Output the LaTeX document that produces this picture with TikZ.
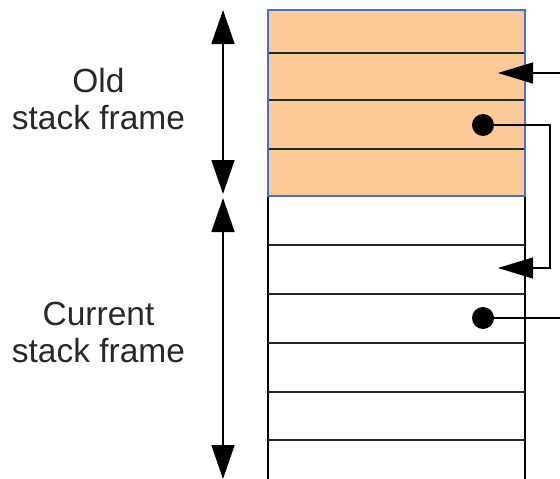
\documentclass[tikz,border=0pt]{standalone}
\usepackage{fontspec}
\setmainfont{Liberation Sans}
\usetikzlibrary{arrows.meta}
\definecolor{oldfill}{RGB}{253,202,152}
\definecolor{oldedge}{RGB}{68,114,196}
\definecolor{txt}{RGB}{40,40,40}
\tikzset{
  rowline/.style={line width=1.7pt,black!85},
  sideline/.style={line width=1.7pt,black},
  dotnode/.style={circle,fill=black,inner sep=0pt,minimum size=22pt},
  conn/.style={line width=1.4pt,black},
  ptr/.style={conn,-{Triangle[length=35pt,width=21pt]}},
  span/.style={line width=1.7pt,{Triangle[length=34pt,width=23pt]}-{Triangle[length=34pt,width=23pt]}},
  lbl/.style={font=\fontsize{33.5pt}{37pt}\selectfont,text=txt,align=center,anchor=base,inner sep=0pt}
}
\begin{document}
\begin{tikzpicture}[x=1pt,y=-1pt]
\useasboundingbox (0,0) rectangle (560,479);
% old frame
\fill[oldfill] (268,10) rectangle (525,196);
\foreach \yy in {53,100,149} \draw[rowline] (268,\yy) -- (525,\yy);
% current frame
\draw[sideline] (268,196) -- (268,479);
\draw[sideline] (525,196) -- (525,479);
\foreach \yy in {245,294,343,392,440} \draw[rowline] (268,\yy) -- (525,\yy);
\draw[line width=1.5pt,oldedge] (268,10) rectangle (525,196);
% labels
\node[lbl] (old) at (98.5,129) {Old\\stack frame};
\node[lbl] (cur) at (98.5,362) {Current\\stack frame};
% spans
\coordinate (s1) at (223,10);
\coordinate (s2) at (223,194);
\coordinate (s3) at (223,198);
\coordinate (s4) at (223,479);
\draw[span] (s1) -- (s2);
\draw[span] (s3) -- (s4);
% pointers
\node[dotnode] (d1) at (483,125) {};
\node[dotnode] (d2) at (483,318) {};
\coordinate (t1) at (498,73);
\coordinate (e1) at (560,73);
\coordinate (t2) at (498,268);
\coordinate (e2) at (560,318);
\draw[ptr] (e1) -- (t1);
\draw[ptr] (d1.center) -- (550,125) |- (t2);
\draw[conn] (d2.center) -- (e2);
\end{tikzpicture}
\end{document}
